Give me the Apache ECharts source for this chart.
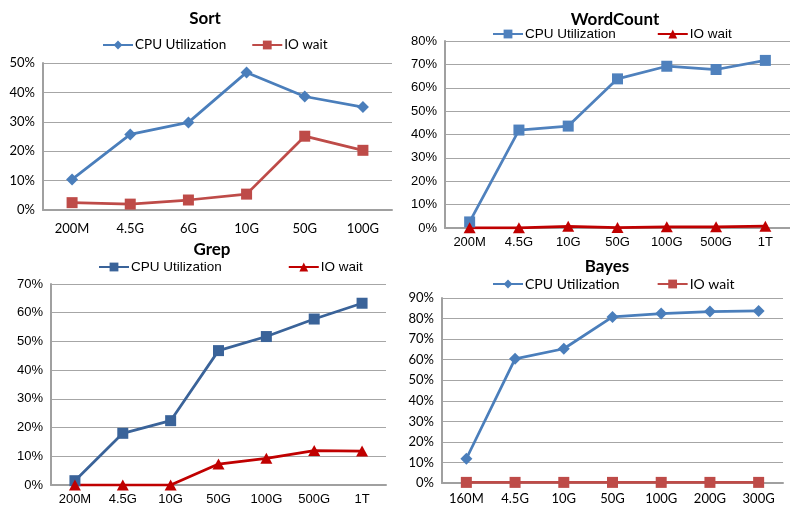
<!DOCTYPE html>
<html><head><meta charset="utf-8">
<script src="https://cdn.jsdelivr.net/npm/echarts@6/dist/echarts.min.js"></script>
<style>html,body{margin:0;padding:0;background:#fff}#c{width:790px;height:506px}</style>
</head><body><div id="c"></div>
<script>
const sortCats = ['200M','4.5G','6G','10G','50G','100G'];
const sortCpu = [10.4, 25.7, 29.8, 46.8, 38.6, 35.0];
const sortIo = [2.5, 2.0, 3.4, 5.4, 25.1, 20.3];

const wcCats = ['200M','4.5G','10G','50G','100G','500G','1T'];
const wcCpu = [2.6, 41.9, 43.6, 63.8, 69.2, 67.8, 71.7];
const wcIo = [0.1, 0.1, 0.7, 0.2, 0.5, 0.5, 0.8];

const grepCats = ['200M','4.5G','10G','50G','100G','500G','1T'];
const grepCpu = [1.5, 18.0, 22.4, 46.8, 51.7, 57.8, 63.3];
const grepIo = [0, 0, 0, 7.3, 9.3, 12.0, 11.8];

const bayesCats = ['160M','4.5G','10G','50G','100G','200G','300G'];
const bayesCpu = [11.8, 60.4, 65.3, 80.8, 82.4, 83.4, 83.7];
const bayesIo = [0.3, 0.3, 0.3, 0.3, 0.3, 0.3, 0.3];

const titles = ['Sort','WordCount','Grep','Bayes'];
const cpuLabel = 'CPU Utilization';
const ioLabel = 'IO wait';

const panels = [
  {cats: sortCats, cpu: sortCpu, io: sortIo, max: 50,
   grid: {left: 43, top: 63, width: 349, height: 147},
   title: {x: 200, y: 5, size: 17}, legend: {x: 102, y: 38, gap: 25},
   cpuColor: '#4A7EBB', cpuSym: 'diamond', cpuSize: [12, 12],
   ioColor: '#BE4B48', ioSym: 'rect', ioSize: [11, 11], font: 'Lato', fs: 13, lfs: 13.5, labelMargin: 12},
  {cats: wcCats, cpu: wcCpu, io: wcIo, max: 80,
   grid: {left: 445, top: 41, width: 349, height: 187},
   title: {x: 610, y: 6, size: 17}, legend: {x: 492, y: 27, gap: 41},
   cpuColor: '#4F81BD', cpuSym: 'rect', cpuSize: [11, 11],
   ioColor: '#C00000', ioSym: 'triangle', ioSize: [12, 11], font: 'Liberation Sans', fs: 13, lfs: 13.5, labelMargin: 8},
  {cats: grepCats, cpu: grepCpu, io: grepIo, max: 70,
   grid: {left: 51, top: 284, width: 335, height: 201},
   title: {x: 207, y: 236, size: 17}, legend: {x: 98, y: 260, gap: 66},
   cpuColor: '#3A6399', cpuSym: 'rect', cpuSize: [11, 11],
   ioColor: '#C00000', ioSym: 'triangle', ioSize: [12, 11], font: 'Liberation Sans', fs: 13, lfs: 13.5, labelMargin: 8},
  {cats: bayesCats, cpu: bayesCpu, io: bayesIo, max: 90,
   grid: {left: 442, top: 298, width: 341, height: 185},
   title: {x: 602, y: 253, size: 17}, legend: {x: 492, y: 277, gap: 37},
   cpuColor: '#4A7EBB', cpuSym: 'diamond', cpuSize: [12, 12],
   ioColor: '#BE4B48', ioSym: 'rect', ioSize: [11, 11], font: 'Lato', fs: 13, lfs: 14, labelMargin: 9}
];

const option = {animation: false, backgroundColor: '#fff',
  title: [], legend: [], grid: [], xAxis: [], yAxis: [], series: []};
const nameMap = {};
panels.forEach((p, i) => {
  const cpuName = 'cpu' + i, ioName = 'io' + i;
  nameMap[cpuName] = cpuLabel; nameMap[ioName] = ioLabel;
  option.title.push({text: titles[i], left: p.title.x, top: p.title.y, textAlign: 'center',
    textStyle: {fontFamily: 'Lato', fontWeight: 'bold', fontSize: p.title.size, color: '#000'}});
  option.legend.push({data: [cpuName, ioName], left: p.legend.x, top: p.legend.y,
    itemWidth: 30, itemHeight: 11, itemGap: p.legend.gap, padding: 0,
    formatter: n => nameMap[n],
    textStyle: {fontFamily: p.font, fontSize: p.lfs, color: '#000', padding: [0, 0, 0, -3]}});
  option.grid.push(Object.assign({containLabel: false}, p.grid));
  option.xAxis.push({type: 'category', gridIndex: i, data: p.cats, boundaryGap: true,
    axisLine: {lineStyle: {color: '#A0A0A0', width: 2}},
    axisTick: {show: false},
    axisLabel: {fontFamily: p.font, fontSize: p.fs, color: '#000', margin: p.labelMargin, interval: 0}});
  option.yAxis.push({type: 'value', gridIndex: i, min: 0, max: p.max, interval: 10,
    axisLine: {show: true, lineStyle: {color: '#A0A0A0', width: 2}},
    axisTick: {show: false},
    splitLine: {lineStyle: {color: '#A6A6A6', width: 1}},
    axisLabel: {fontFamily: p.font, fontSize: p.fs, color: '#000', margin: 8, formatter: v => v + '%'}});
  option.series.push({name: cpuName, type: 'line', xAxisIndex: i, yAxisIndex: i, data: p.cpu,
    symbol: p.cpuSym, symbolSize: p.cpuSize, color: p.cpuColor,
    lineStyle: {width: 2.75, color: p.cpuColor}, itemStyle: {color: p.cpuColor}});
  option.series.push({name: ioName, type: 'line', xAxisIndex: i, yAxisIndex: i, data: p.io,
    symbol: p.ioSym, symbolSize: p.ioSize, color: p.ioColor,
    lineStyle: {width: 2.75, color: p.ioColor}, itemStyle: {color: p.ioColor}});
});
const chart = echarts.init(document.getElementById('c'), null, {renderer: 'canvas'});
chart.setOption(option);
</script></body></html>
